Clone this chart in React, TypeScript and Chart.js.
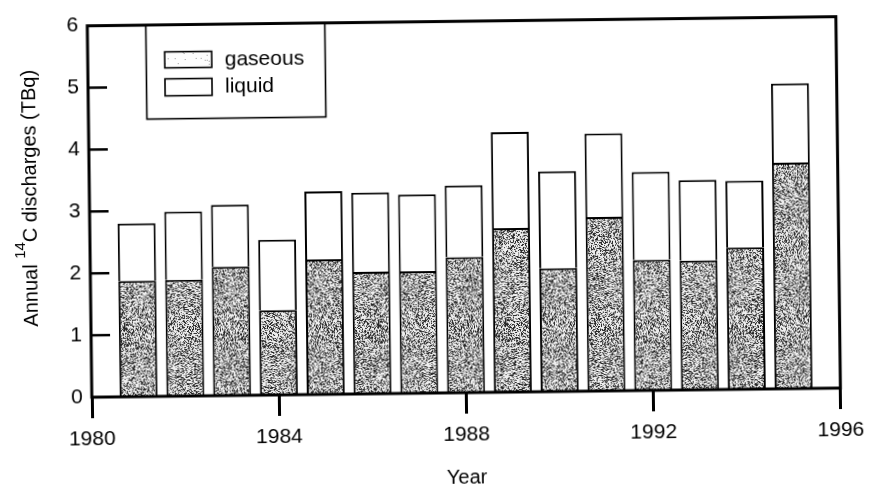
import React, { useEffect, useRef } from 'react';
import { Chart, registerables } from 'chart.js';

Chart.register(...registerables);

// ---- data ----
const years = [1981, 1982, 1983, 1984, 1985, 1986, 1987, 1988, 1989, 1990, 1991, 1992, 1993, 1994, 1995];
const gaseous = [1.87, 1.88, 2.08, 1.37, 2.18, 1.97, 1.97, 2.19, 2.65, 1.99, 2.81, 2.11, 2.09, 2.29, 3.65];
const liquid = [0.93, 1.10, 1.00, 1.14, 1.10, 1.28, 1.24, 1.16, 1.55, 1.57, 1.35, 1.42, 1.30, 1.08, 1.28];
const xTickValues = [1980, 1984, 1988, 1992, 1996];
const yTickValues = [0, 1, 2, 3, 4, 5, 6];
const seriesLabels = ['gaseous', 'liquid'];
const yTitleParts = ['Annual ', '14', 'C discharges (TBq)'];
const xTitle = 'Year';

const FONT = '"Liberation Sans", Arial, Helvetica, sans-serif';

function makeStipple(ctx: CanvasRenderingContext2D, size: number, dark: boolean, seed: number) {
  const c = document.createElement('canvas');
  c.width = size;
  c.height = size;
  const g = c.getContext('2d')!;
  const img = g.createImageData(size, size);
  let a = seed >>> 0;
  const rnd = () => {
    a = (a + 0x6d2b79f5) >>> 0;
    let t = a;
    t = Math.imul(t ^ (t >>> 15), t | 1);
    t ^= t + Math.imul(t ^ (t >>> 7), t | 61);
    return ((t ^ (t >>> 14)) >>> 0) / 4294967296;
  };
  for (let i = 0; i < size * size; i++) {
    const r = rnd();
    let v: number;
    if (dark) {
      v = r < 0.27 ? 40 : r < 0.52 ? 140 : 238;
    } else {
      v = r < 0.03 ? 150 : 253;
    }
    img.data[i * 4] = v;
    img.data[i * 4 + 1] = v;
    img.data[i * 4 + 2] = v;
    img.data[i * 4 + 3] = 255;
  }
  g.putImageData(img, 0, 0);
  return ctx.createPattern(c, 'repeat')!;
}

export default function App() {
  const ref = useRef<HTMLCanvasElement | null>(null);

  useEffect(() => {
    const canvas = ref.current!;
    const ctx0 = canvas.getContext('2d')!;
    const darkPattern = makeStipple(ctx0, 127, true, 12345);
    const lightPattern = makeStipple(ctx0, 61, false, 777);

    const decor = {
      id: 'decor',
      afterDraw(chart: any) {
        const { ctx, chartArea: a, scales } = chart;
        const y = scales.y;
        ctx.save();
        ctx.strokeStyle = '#000';
        ctx.fillStyle = '#000';
        // inward y ticks
        ctx.lineWidth = 2.5;
        yTickValues.forEach((v) => {
          if (v <= y.min || v >= y.max) return;
          const py = y.getPixelForValue(v);
          ctx.beginPath();
          ctx.moveTo(a.left, py);
          ctx.lineTo(a.left + 19, py);
          ctx.stroke();
        });
        // frame
        ctx.lineWidth = 3;
        ctx.strokeRect(a.left, a.top, a.right - a.left, a.bottom - a.top);

        // legend
        const lx = a.left + 58.5;
        const ly = a.top;
        ctx.lineWidth = 1.6;
        ctx.fillStyle = '#fff';
        ctx.fillRect(lx, ly + 1.5, 179, 92.5);
        ctx.strokeRect(lx, ly, 179, 94);
        const sw = [
          { y: ly + 27, h: 16, fill: lightPattern },
          { y: ly + 54, h: 17, fill: '#fff' },
        ];
        ctx.font = `21px ${FONT}`;
        ctx.textBaseline = 'middle';
        ctx.textAlign = 'left';
        sw.forEach((s, i) => {
          ctx.fillStyle = s.fill as any;
          ctx.fillRect(lx + 18.5, s.y, 47, s.h);
          ctx.strokeRect(lx + 18.5, s.y, 47, s.h);
          ctx.fillStyle = '#000';
          ctx.fillText(seriesLabels[i], lx + 78.5, s.y + s.h / 2 + 0.5);
        });

        // y title with superscript
        const cy = (a.top + a.bottom) / 2 - 14;
        ctx.translate(37, cy);
        ctx.rotate(-Math.PI / 2);
        ctx.textBaseline = 'alphabetic';
        const big = `20px ${FONT}`;
        const small = `15px ${FONT}`;
        ctx.font = big;
        const w1 = ctx.measureText(yTitleParts[0]).width;
        const w3 = ctx.measureText(yTitleParts[2]).width;
        ctx.font = small;
        const w2 = ctx.measureText(yTitleParts[1]).width;
        let x = -(w1 + w2 + w3) / 2;
        ctx.fillStyle = '#000';
        ctx.font = big;
        ctx.fillText(yTitleParts[0], x, 0);
        x += w1;
        ctx.font = small;
        ctx.fillText(yTitleParts[1], x, -12);
        x += w2;
        ctx.font = big;
        ctx.fillText(yTitleParts[2], x, 0);
        ctx.restore();
      },
    };

    const chart = new Chart(canvas, {
      type: 'bar',
      data: {
        datasets: [
          {
            label: seriesLabels[0],
            data: years.map((yr, i) => ({ x: yr, y: gaseous[i] })),
            backgroundColor: darkPattern as any,
            borderColor: '#000',
            borderWidth: 2,
            barPercentage: 0.81,
            categoryPercentage: 1,
          },
          {
            label: seriesLabels[1],
            data: years.map((yr, i) => ({ x: yr, y: liquid[i] })),
            backgroundColor: '#fff',
            borderColor: '#000',
            borderWidth: 2,
            barPercentage: 0.81,
            categoryPercentage: 1,
          },
        ],
      },
      options: {
        animation: false,
        responsive: false,
        devicePixelRatio: 1,
        layout: { padding: { left: 0, top: 15, right: 29, bottom: 0 } },
        plugins: {
          legend: { display: false },
          tooltip: { enabled: false },
        },
        scales: {
          x: {
            type: 'linear',
            stacked: true,
            offset: false,
            min: 1980,
            max: 1996,
            afterBuildTicks: (s: any) => {
              s.ticks = xTickValues.map((v) => ({ value: v }));
            },
            afterFit: (s: any) => {
              s.height = 98;
            },
            ticks: {
              color: '#000',
              font: { size: 21, family: FONT },
              padding: 9,
              maxRotation: 0,
              callback: (v: any) => String(v),
            },
            grid: {
              display: true,
              offset: false,
              drawOnChartArea: false,
              drawTicks: true,
              tickLength: 21,
              color: '#000',
              lineWidth: 3,
            },
            border: { display: false },
            title: {
              display: true,
              text: xTitle,
              color: '#000',
              font: { size: 20, family: FONT },
              padding: { top: 0, bottom: 1 },
            },
          },
          y: {
            type: 'linear',
            stacked: true,
            min: 0,
            max: 6,
            afterBuildTicks: (s: any) => {
              s.ticks = yTickValues.map((v) => ({ value: v }));
            },
            afterFit: (s: any) => {
              s.width = 90;
            },
            ticks: {
              color: '#000',
              font: { size: 21, family: FONT },
              padding: 9,
              callback: (v: any) => String(v),
            },
            grid: { display: false, drawTicks: false },
            border: { display: false },
          },
        },
      },
      plugins: [decor],
    } as any);

    return () => chart.destroy();
  }, []);

  return (
    <div
      style={{
        position: 'absolute',
        left: 0,
        top: 0,
        width: 871,
        height: 491,
        background: '#fff',
        transform: 'rotate(-0.7deg)',
        transformOrigin: '50% 50%',
      }}
    >
      <canvas ref={ref} width={871} height={491} style={{ display: 'block', width: 871, height: 491 }} />
    </div>
  );
}
